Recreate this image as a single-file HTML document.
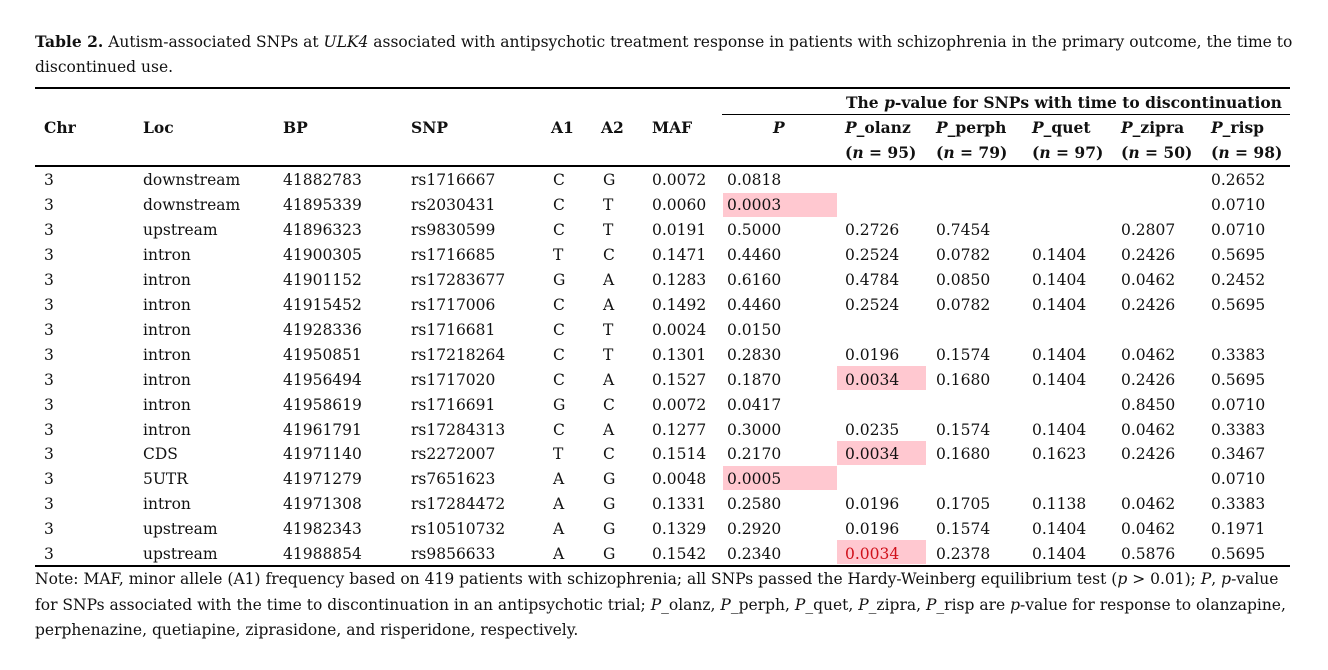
<!DOCTYPE html>
<html><head><meta charset="utf-8"><style>
body{margin:0;width:1328px;height:670px;background:#fff;position:relative;overflow:hidden;font-family:"DejaVu Serif","Liberation Serif",serif;font-size:15.5px;color:#111}
.t{position:absolute;white-space:nowrap;line-height:24px}
.b{font-weight:bold}
.r{position:absolute;background:#000;left:35px;width:1255px}
.h{position:absolute;background:#ffc8d0;height:24px}
</style></head><body>
<div class="t" style="left:35px;top:30px"><b>Table 2.</b> Autism-associated SNPs at <i>ULK4</i> associated with antipsychotic treatment response in patients with schizophrenia in the primary outcome, the time to</div>
<div class="t" style="left:35px;top:55px">discontinued use.</div>
<div class="r" style="top:87px;height:2px"></div>
<div class="r" style="top:114px;height:1px;left:722px;width:568px"></div>
<div class="r" style="top:165px;height:2px"></div>
<div class="r" style="top:565px;height:2px"></div>
<div class="t b" style="left:846px;top:91px">The <i>p</i>-value for SNPs with time to discontinuation</div>
<div class="t b" style="left:44px;top:116px">Chr</div>
<div class="t b" style="left:143px;top:116px">Loc</div>
<div class="t b" style="left:283px;top:116px">BP</div>
<div class="t b" style="left:411px;top:116px">SNP</div>
<div class="t b" style="left:551px;top:116px">A1</div>
<div class="t b" style="left:601px;top:116px">A2</div>
<div class="t b" style="left:652px;top:116px">MAF</div>
<div class="t b" style="left:773px;top:116px"><i>P</i></div>
<div class="t b" style="left:845px;top:116px"><i>P</i>_olanz</div>
<div class="t b" style="left:936px;top:116px"><i>P</i>_perph</div>
<div class="t b" style="left:1032px;top:116px"><i>P</i>_quet</div>
<div class="t b" style="left:1121px;top:116px"><i>P</i>_zipra</div>
<div class="t b" style="left:1211px;top:116px"><i>P</i>_risp</div>
<div class="t b" style="left:845px;top:141px">(<i>n</i> = 95)</div>
<div class="t b" style="left:936px;top:141px">(<i>n</i> = 79)</div>
<div class="t b" style="left:1032px;top:141px">(<i>n</i> = 97)</div>
<div class="t b" style="left:1121px;top:141px">(<i>n</i> = 50)</div>
<div class="t b" style="left:1211px;top:141px">(<i>n</i> = 98)</div>
<div class="h" style="left:723px;width:114px;top:193px"></div>
<div class="h" style="left:837px;width:89px;top:366px"></div>
<div class="h" style="left:837px;width:89px;top:441px"></div>
<div class="h" style="left:723px;width:114px;top:466px"></div>
<div class="h" style="left:837px;width:89px;top:540px"></div>
<div id="rows"></div>
<div class="t" style="left:35px;top:567px">Note: MAF, minor allele (A1) frequency based on 419 patients with schizophrenia; all SNPs passed the Hardy-Weinberg equilibrium test (<i>p</i> &gt; 0.01); <i>P</i>, <i>p</i>-value</div>
<div class="t" style="left:35px;top:593px">for SNPs associated with the time to discontinuation in an antipsychotic trial; <i>P</i>_olanz, <i>P</i>_perph, <i>P</i>_quet, <i>P</i>_zipra, <i>P</i>_risp are <i>p</i>-value for response to olanzapine,</div>
<div class="t" style="left:35px;top:618px">perphenazine, quetiapine, ziprasidone, and risperidone, respectively.</div>
<script>
var d=[
["3","downstream","41882783","rs1716667","C","G","0.0072","0.0818","","","","","0.2652"],
["3","downstream","41895339","rs2030431","C","T","0.0060","0.0003","","","","","0.0710"],
["3","upstream","41896323","rs9830599","C","T","0.0191","0.5000","0.2726","0.7454","","0.2807","0.0710"],
["3","intron","41900305","rs1716685","T","C","0.1471","0.4460","0.2524","0.0782","0.1404","0.2426","0.5695"],
["3","intron","41901152","rs17283677","G","A","0.1283","0.6160","0.4784","0.0850","0.1404","0.0462","0.2452"],
["3","intron","41915452","rs1717006","C","A","0.1492","0.4460","0.2524","0.0782","0.1404","0.2426","0.5695"],
["3","intron","41928336","rs1716681","C","T","0.0024","0.0150","","","","",""],
["3","intron","41950851","rs17218264","C","T","0.1301","0.2830","0.0196","0.1574","0.1404","0.0462","0.3383"],
["3","intron","41956494","rs1717020","C","A","0.1527","0.1870","0.0034","0.1680","0.1404","0.2426","0.5695"],
["3","intron","41958619","rs1716691","G","C","0.0072","0.0417","","","","0.8450","0.0710"],
["3","intron","41961791","rs17284313","C","A","0.1277","0.3000","0.0235","0.1574","0.1404","0.0462","0.3383"],
["3","CDS","41971140","rs2272007","T","C","0.1514","0.2170","0.0034","0.1680","0.1623","0.2426","0.3467"],
["3","5UTR","41971279","rs7651623","A","G","0.0048","0.0005","","","","","0.0710"],
["3","intron","41971308","rs17284472","A","G","0.1331","0.2580","0.0196","0.1705","0.1138","0.0462","0.3383"],
["3","upstream","41982343","rs10510732","A","G","0.1329","0.2920","0.0196","0.1574","0.1404","0.0462","0.1971"],
["3","upstream","41988854","rs9856633","A","G","0.1542","0.2340","0.0034","0.2378","0.1404","0.5876","0.5695"]];
var xs=[44,143,283,411,551,601,652,727,845,936,1032,1121,1211],h="";
d.forEach(function(r,i){var y=168+24.95*i;r.forEach(function(v,j){if(!v)return;var c=(i==15&&j==8)?"color:#d0101a;":"";
h+='<div class="t" style="'+c+'left:'+(xs[j]+(j==4||j==5?2:0))+'px;top:'+y+'px">'+v+'</div>';});});
document.getElementById("rows").innerHTML=h;
</script>
</body></html>
